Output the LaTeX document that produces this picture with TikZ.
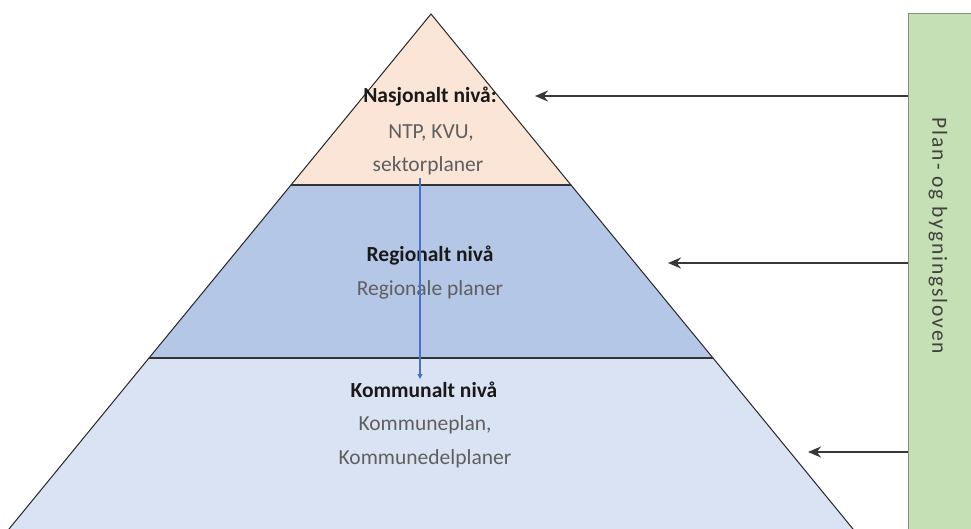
\documentclass[tikz,border=0pt]{standalone}
\usepackage{fontspec}
\setmainfont{Carlito}
\usetikzlibrary{arrows.meta}
\definecolor{topfill}{RGB}{251,229,214}
\definecolor{midfill}{RGB}{180,199,231}
\definecolor{lowfill}{RGB}{218,227,243}
\definecolor{lawfill}{RGB}{197,224,180}
\definecolor{lawedge}{RGB}{130,150,115}
\definecolor{flowblue}{RGB}{68,114,196}
\definecolor{subtext}{RGB}{95,95,95}
\definecolor{headtext}{RGB}{25,25,25}
\begin{document}
\begin{tikzpicture}[x=1pt,y=-1pt,
  tier/.style={draw=black!85,line width=1pt,line join=miter},
  head/.style={font=\fontsize{21.5}{24}\selectfont\bfseries,text=headtext,inner sep=0pt},
  sub/.style={font=\fontsize{21.5}{24}\selectfont,text=subtext,inner sep=0pt},
  feed/.style={draw=black!78,line width=2pt,-{Stealth[length=13pt,width=11pt]}},
  down/.style={draw=flowblue,line width=1.3pt,-{Triangle[length=5pt,width=5pt]}}]
\useasboundingbox (0,0) rectangle (971,529);
\begin{scope}
\clip (0,0) rectangle (971,529);
% pyramid tiers
\fill[lowfill] (149,358) -- (713,358) -- (862,540) -- (0,540) -- cycle;
\draw[tier] (0,540) -- (149,358) -- (713,358) -- (862,540);
\draw[tier,fill=midfill] (291,185) -- (571,185) -- (713,358) -- (149,358) -- cycle;
\draw[tier,fill=topfill] (431,14) -- (571,185) -- (291,185) -- cycle;
% horizontal tier boundaries are drawn twice, so they look heavier
\draw[draw=black!80,line width=2pt] (291,185) -- (571,185);
\draw[draw=black!80,line width=2pt] (149,358) -- (713,358);
% law box
\node[draw=lawedge,line width=1pt,fill=lawfill,minimum width=90pt,minimum height=540pt,anchor=north west,inner sep=0pt] (law) at (908,13) {};
\end{scope}
\node[rotate=-90,font=\fontsize{21.5}{24}\selectfont\addfontfeature{LetterSpace=9},text=black!75,inner sep=0pt] (lawtext) at (938,236) {Plan- og bygningsloven};
% tier labels
\node[head] (n1) at (430,97) {Nasjonalt nivå:};
\node[sub] (n2) at (431,133) {NTP, KVU,};
\node[sub] (n3) at (428,166) {sektorplaner};
\node[head] (r1) at (430,256) {Regionalt nivå};
\node[sub] (r2) at (430,290) {Regionale planer};
\node[head] (k1) at (424,390) {Kommunalt nivå};
\node[sub] (k2) at (425,425) {Kommuneplan,};
\node[sub] (k3) at (425,459) {Kommunedelplaner};
% arrows from the law to each level
\coordinate (e1) at (535,96);
\coordinate (e2) at (668,263);
\coordinate (e3) at (808,452);
\draw[feed] (law.west |- e1) -- (e1);
\draw[feed] (law.west |- e2) -- (e2);
\draw[feed] (law.west |- e3) -- (e3);
% downward flow through the levels
\coordinate (f1) at (420,178);
\coordinate (f2) at (420,379);
\draw[down] (f1) -- (f2);
\end{tikzpicture}
\end{document}
